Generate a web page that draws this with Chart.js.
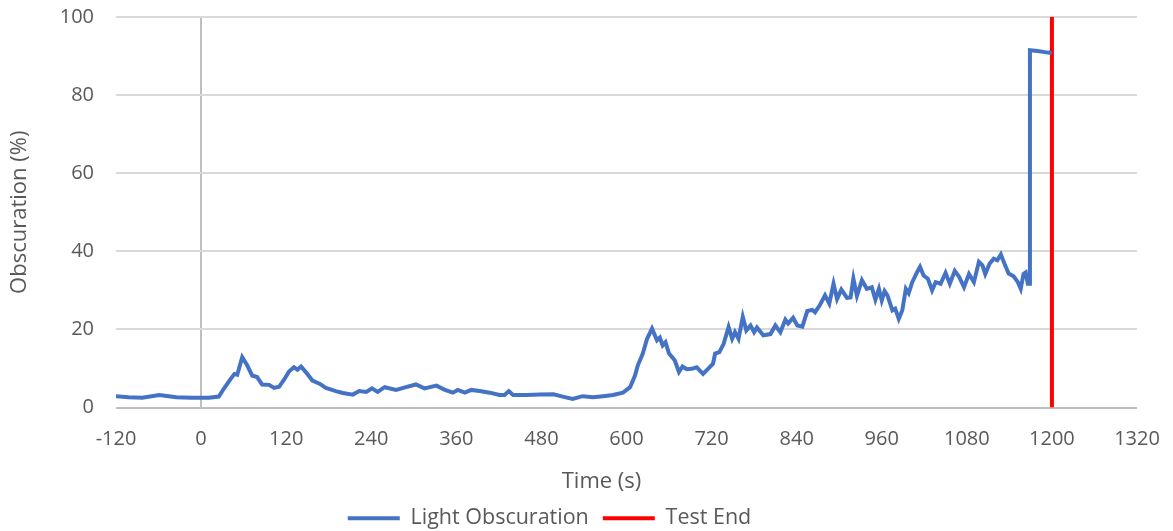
<!DOCTYPE html>
<html>
<head>
<meta charset="utf-8">
<script src="https://cdn.jsdelivr.net/npm/chart.js@4/dist/chart.umd.min.js"></script>
<style>
  html, body { margin: 0; padding: 0; background: #fff; }
  #wrap { width: 1173px; height: 531px; }
</style>
</head>
<body>
<div id="wrap"><canvas id="myChart" width="1173" height="531"></canvas></div>
<script>
// time (s) and obscuration (%)
var times = [-120, -102, -83, -59, -35, -13, 11, 25, 32, 40, 47, 51, 58, 65, 72, 79, 86, 96, 103, 110,
  117, 124, 131, 136, 141, 148, 157, 167, 176, 190, 200, 214, 223, 233, 241, 249, 259, 275, 289, 303,
  315, 332, 343, 355, 362, 372, 381, 393, 407, 421, 428, 434, 440, 459, 478, 497, 510, 524, 538, 553,
  567, 581, 595, 605, 612, 616, 623, 629, 636, 643, 647, 651, 655, 660, 668, 674, 679, 685, 692, 699,
  708, 715, 722, 725, 731, 737, 744, 749, 753, 758, 764, 769, 775, 780, 784, 793, 803, 810, 817, 824,
  828, 835, 841, 848, 855, 862, 866, 873, 880, 886, 892, 897, 903, 911, 916, 920, 925, 932, 939, 946,
  951, 956, 960, 964, 968, 975, 979, 984, 989, 994, 998, 1003, 1010, 1014, 1019, 1025, 1031, 1036, 1043, 1050,
  1056, 1063, 1069, 1076, 1083, 1090, 1097, 1102, 1106, 1112, 1118, 1123, 1128, 1134, 1139, 1146, 1152, 1156, 1160, 1163,
  1166, 1168, 1169, 1180, 1190, 1197, 1199];
var obscuration = [2.9, 2.6, 2.5, 3.2, 2.6, 2.5, 2.5, 2.8, 4.8, 6.9, 8.6, 8.4, 12.9, 10.8, 8.2, 7.8, 5.9, 5.8, 5.0, 5.3,
  7.1, 9.2, 10.3, 9.7, 10.5, 9.0, 6.9, 6.1, 5.0, 4.2, 3.7, 3.3, 4.2, 4.0, 4.9, 4.0, 5.2, 4.5, 5.2, 5.9,
  4.9, 5.6, 4.6, 3.8, 4.5, 3.8, 4.5, 4.2, 3.8, 3.2, 3.2, 4.2, 3.2, 3.2, 3.3, 3.4, 2.8, 2.2, 2.9, 2.6,
  2.9, 3.2, 3.8, 5.2, 8.2, 10.8, 13.8, 17.6, 20.2, 17.2, 17.9, 15.9, 16.7, 13.8, 12.1, 9.1, 10.5, 9.8, 9.9, 10.3,
  8.6, 9.9, 11.2, 13.8, 14.2, 16.3, 20.6, 17.6, 19.3, 17.6, 23.2, 19.7, 21.0, 19.3, 20.5, 18.5, 18.8, 21.0, 19.3, 22.5,
  21.5, 23.0, 21.0, 20.7, 24.7, 25.0, 24.4, 26.3, 28.7, 26.6, 31.7, 27.8, 30.2, 28.1, 28.2, 33.0, 28.6, 32.6, 30.4, 30.8,
  27.6, 30.4, 27.4, 29.8, 28.7, 24.9, 25.3, 22.7, 24.9, 30.4, 29.3, 32.1, 34.7, 36.0, 33.8, 33.0, 30.0, 32.1, 31.7, 34.5,
  31.7, 35.0, 33.5, 30.8, 34.2, 32.1, 37.3, 36.4, 34.2, 36.8, 38.1, 37.7, 39.2, 36.4, 34.3, 33.6, 32.1, 30.4, 34.2, 34.6,
  31.7, 31.7, 91.5, 91.3, 91.0, 90.8, 91.2];
var testEndTime = 1200;
var testEndRange = [0, 100];
var xTicks = [-120, 0, 120, 240, 360, 480, 600, 720, 840, 960, 1080, 1200, 1320];

var lightData = times.map(function (t, i) { return { x: t, y: obscuration[i] }; });
var endData = testEndRange.map(function (v) { return { x: testEndTime, y: v }; });

var tickFont = { family: "'Open Sans', sans-serif", size: 20 };
var titleFont = { family: "'Open Sans', sans-serif", size: 22 };
var legendFont = { family: "'Open Sans', sans-serif", size: 21.5 };
var grey = '#595959';

// the original's legend and x title sit left of the plot centre
var offCentre = {
  id: 'offCentre',
  afterLayout: function (chart) {
    var lg = chart.legend;
    lg.left -= 19; lg.right -= 19;
    lg.top += 8; lg.bottom += 8;
    var xs = chart.scales.x;
    if (!xs._titleShifted) {
      var orig = xs.drawTitle;
      xs.drawTitle = function () {
        var c = this.ctx;
        c.save();
        c.translate(-25, 0);
        orig.apply(this, arguments);
        c.restore();
      };
      xs._titleShifted = true;
    }
  }
};

var ctx = document.getElementById('myChart');
var myChart = new Chart(ctx, {
  type: 'scatter',
  data: {
    datasets: [{
      label: 'Light Obscuration',
      data: lightData,
      showLine: true,
      borderColor: '#4472C4',
      backgroundColor: '#4472C4',
      borderWidth: 4,
      pointRadius: 0,
      tension: 0
    }, {
      label: 'Test End',
      data: endData,
      showLine: true,
      borderColor: '#FF0000',
      backgroundColor: '#FF0000',
      borderWidth: 4,
      pointRadius: 0
    }]
  },
  plugins: [offCentre],
  options: {
    responsive: false,
    animation: false,
    layout: { padding: { top: 17, right: 36, left: 0, bottom: 0 } },
    plugins: {
      tooltip: { enabled: false },
      legend: {
        position: 'bottom',
        labels: {
          color: grey,
          font: legendFont,
          boxWidth: 52,
          boxHeight: 4,
          padding: 14,
          generateLabels: function (chart) {
            return Chart.defaults.plugins.legend.labels.generateLabels(chart).map(function (l) {
              l.lineWidth = 0;
              return l;
            });
          }
        }
      }
    },
    scales: {
      x: {
        type: 'linear',
        min: -120,
        max: 1320,
        afterBuildTicks: function (scale) {
          scale.ticks = xTicks.map(function (v) { return { value: v }; });
        },
        ticks: {
          color: grey, font: tickFont, padding: 20, maxRotation: 0,
          callback: function (v) { return String(v); }
        },
        grid: {
          drawTicks: false,
          lineWidth: 2,
          color: function (c) { return c.tick && c.tick.value === 0 ? '#bfbfbf' : 'rgba(0,0,0,0)'; }
        },
        border: { display: false },
        title: { display: true, text: 'Time (s)', color: grey, font: titleFont, padding: { top: 0, bottom: -9 } },
        afterFit: function (scale) {
          scale.height = 78;
          scale.paddingLeft = 0; scale.paddingRight = 0;
        }
      },
      y: {
        min: 0,
        max: 100,
        ticks: {
          stepSize: 20, color: grey, font: tickFont, padding: 22,
          callback: function (v) { return String(v); }
        },
        grid: {
          drawTicks: false,
          lineWidth: 2,
          color: function (c) { return c.tick && c.tick.value === 0 ? '#bfbfbf' : '#d9d9d9'; }
        },
        border: { display: false },
        title: { display: true, text: 'Obscuration (%)', color: grey, font: titleFont, padding: { top: 7, bottom: 0 } },
        afterFit: function (scale) {
          scale.width = 116;
          scale.paddingTop = 0; scale.paddingBottom = 0;
        }
      }
    }
  }
});
</script>
</body>
</html>
